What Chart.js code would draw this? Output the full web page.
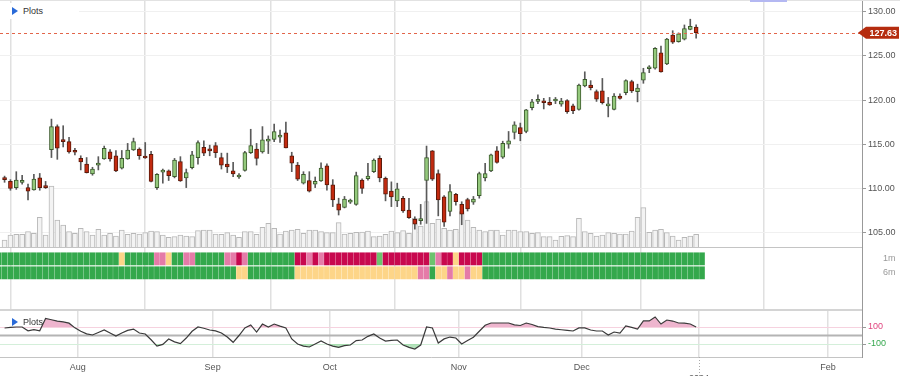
<!DOCTYPE html>
<html>
<head>
<meta charset="utf-8">
<script src="https://cdn.jsdelivr.net/npm/chart.js@4.4.0/dist/chart.umd.min.js"></script>
<style>
  body { margin: 0; background: #fff; overflow: hidden; font-family: "Liberation Sans", Arial, sans-serif; }
  #wrap { position: relative; width: 900px; height: 376px; }
  .box { position: absolute; left: 0; width: 900px; }
  #mainBox { top: 0; height: 248px; }
  #heatBox { top: 248px; height: 61px; }
  #oscBox { top: 309px; height: 67px; }
  .plots { position: absolute; left: 0; padding-left: 12px; font-size: 9px; line-height: 16px; height: 16px; color: #333; }
  .plots:before { content: ""; display: inline-block; border-left: 6px solid #2a6ad8; border-top: 4px solid transparent; border-bottom: 4px solid transparent; margin-right: 5px; vertical-align: -1px; }
  #topLine { position: absolute; left: 0; top: 0; width: 900px; height: 1px; background: #e2e2e2; }
  #scroller { position: absolute; left: 750px; top: 0; width: 37px; height: 2px; background: #b4b8f2; }
</style>
</head>
<body>
<div id="wrap">
  <div class="box" id="mainBox"><canvas id="main"></canvas></div>
  <div class="box" id="heatBox"><canvas id="heat"></canvas></div>
  <div class="box" id="oscBox"><canvas id="osc"></canvas></div>
  <div id="topLine"></div>
  <div id="scroller"></div>
  <div class="plots" style="top:3px;width:67px;background:#fff">Plots</div>
  <div class="plots" style="top:314px">Plots</div>
</div>
<script>
const FONT = '"Liberation Sans", Arial, sans-serif';
Chart.defaults.font.family = FONT;
Chart.defaults.font.size = 9;

// x range in trading-day index (0 = Jul 13 2023)
const xMin = -0.78, xMax = 146.3;
const monthTicks = [12.5, 35.5, 55.5, 77.5, 98.5, 118.5, 140.5];
const monthLabels = ["Aug", "Sep", "Oct", "Nov", "Dec", ["", "2024"], "Feb"];
const priceTicks = [105, 110, 115, 120, 125, 130];
const lastPrice = 127.63;

// daily candles
const open = [111.1,110.8,110.1,110.7,110.1,109.85,111.2,110.2,114.4,117.0,115.45,115.3,114.2,113.4,112.75,111.65,112.65,113.35,114.15,113.7,
  112.3,113.35,114.35,114.45,113.55,113.85,110.1,111.85,112.0,111.35,113.05,111.2,112.35,113.5,114.65,114.45,114.85,113.5,112.75,112.0,
  111.3,112.05,114.05,114.45,114.15,115.35,115.55,115.8,116.3,113.7,112.65,110.6,110.9,110.5,110.85,112.55,110.4,108.25,107.85,108.45,
  108.2,110.95,111.1,111.9,113.4,111.15,109.7,108.6,108.9,107.55,106.5,106.35,110.9,114.25,111.7,109.05,107.4,109.35,108.2,108.75,
  108.45,109.2,111.2,112.0,114.25,113.55,115.0,116.35,116.9,116.45,119.15,119.85,119.8,119.75,119.9,119.55,119.95,119.35,118.95,121.6,
  121.7,120.95,121.05,119.35,118.95,120.45,120.85,122.1,120.95,122.25,123.55,123.6,125.35,124.1,127.35,126.6,126.9,128.0,128.25];
const high = [111.4,111.0,111.9,111.5,110.5,111.6,111.7,110.8,117.85,117.2,117.1,115.8,114.55,113.7,113.5,112.4,113.6,114.8,114.4,114.3,
  114.3,115.1,115.7,114.6,115.2,114.2,111.7,112.2,112.1,113.4,113.6,112.2,114.2,115.4,115.4,114.9,115.2,114.0,114.0,112.95,
  111.7,114.2,116.7,115.1,117.0,115.95,117.3,116.6,117.5,114.1,112.95,111.9,111.9,111.3,112.9,112.8,111.0,108.9,109.1,108.8,
  111.85,111.1,112.85,113.35,113.7,111.3,110.75,110.6,109.1,108.9,106.8,108.2,114.8,114.3,112.1,109.2,110.45,109.45,108.5,108.9,
  109.1,111.85,112.85,113.9,114.75,115.35,116.45,117.55,117.4,118.95,120.1,120.6,120.2,120.3,120.3,120.2,120.05,119.55,121.8,123.2,
  122.2,121.15,122.45,120.3,120.75,120.7,122.3,122.25,121.8,123.6,123.9,125.95,126.1,127.0,127.85,127.6,128.5,129.15,128.5];
const low = [110.7,109.8,109.9,110.5,108.7,109.8,109.8,110.0,113.5,113.3,114.7,114.0,113.8,112.1,111.75,111.5,112.1,113.3,113.1,111.9,
  112.2,113.3,114.3,113.3,113.4,110.75,109.9,110.6,110.9,111.2,110.8,110.1,112.2,112.75,113.7,113.7,113.5,112.2,111.8,111.35,
  111.15,111.95,113.95,112.65,114.0,113.95,115.3,115.2,114.6,111.9,110.9,110.5,109.6,110.1,110.8,109.8,107.95,107.0,107.8,108.3,
  108.1,109.45,110.95,111.8,110.75,108.6,107.95,107.95,107.3,106.6,105.4,105.95,106.05,110.9,106.9,105.7,106.9,108.1,105.9,107.45,
  108.2,108.9,110.85,111.9,112.85,113.4,114.55,115.6,115.4,116.3,118.9,119.6,119.0,119.4,119.6,119.3,118.5,118.45,118.85,121.5,
  121.15,119.85,119.55,118.1,118.9,120.1,120.6,120.85,119.8,121.9,123.1,123.5,123.15,124.0,126.4,126.55,126.8,127.95,127.0];
const close = [111.0,110.0,110.95,110.8,109.7,111.05,110.1,110.1,117.0,114.55,115.3,114.15,114.1,113.0,111.8,112.2,112.85,114.55,113.35,112.0,
  113.4,114.35,115.3,113.7,113.45,110.8,111.6,111.95,111.45,113.2,110.85,111.8,113.8,115.2,114.0,114.25,114.05,112.65,112.45,111.65,
  111.5,114.05,114.85,113.4,115.5,115.4,116.45,116.05,114.6,112.85,111.05,111.6,109.7,110.8,112.3,110.4,108.7,107.55,108.8,108.65,
  111.45,110.0,111.4,113.2,111.2,109.35,109.05,109.95,107.45,106.7,105.95,106.6,113.5,111.05,108.7,106.2,109.65,108.5,107.1,107.7,
  108.8,111.7,111.7,113.8,112.95,115.1,115.4,117.2,116.2,118.9,119.8,119.95,119.7,119.45,119.95,119.9,118.7,118.8,121.7,122.35,
  121.4,120.1,119.7,119.4,120.45,120.2,122.2,121.05,121.35,123.1,123.65,125.85,123.2,126.9,126.55,127.5,128.1,128.35,127.63];
// volume, in 100k shares
const volume = [7,12,12.7,12.7,15.3,13.7,29.7,12,61,27,22,15.3,13.7,18.7,15.3,12,17.7,12,13.7,11,
  17,12.7,13.7,13,14.3,16,15.3,12,9.7,10.3,12,11,10.3,16.3,17,17,13,12.7,14.3,12,
  9.7,15.3,15.3,12.7,19.7,23.7,18.7,13,16,17,17.7,13.7,17,17,15.3,14.3,14.3,24.3,13,13.7,
  14.7,15,16,10.3,11,12.7,16,14.3,16.3,13.7,28.7,21,45.3,23.7,27.7,18.7,17,17.7,35.3,27,
  19.7,17,15.3,17,17,12,17,17,15.3,15.3,13.7,14.3,10.3,10.3,7,10.7,11.3,10.3,28.7,15.3,
  13.7,11,12,14.3,13.7,13,13,16,29.7,39.3,14.7,17,17.7,14.3,11,7,9.7,11,12.7];
// momentum oscillator (lower panel)
const osc = [88,95,100,100,55,70,55,200,185,170,160,145,90,50,20,6,35,65,30,-6,
  29,60,76,29,18,-50,-124,-105,-41,-75,-95,-30,50,100,85,65,55,30,-18,-80,
  0,90,124,41,135,100,135,110,88,-41,-100,-125,-135,-100,-65,-100,-125,-140,-120,-112,
  -60,-53,-10,18,-30,-65,-58,-53,-112,-140,-159,-112,100,88,-88,-40,-18,-29,-100,-60,
  -20,50,120,147,147,147,147,125,118,147,130,105,95,88,76,68,60,53,90,90,
  65,53,53,6,41,29,112,95,76,171,171,218,135,182,170,147,145,135,100];
// trend strip, one cell per day from index -1 to 119
// G strong up, L up, Y neutral, P down, R strong down
const heat1m = ("GGGGGGGGGGGGGGGGGGGGG" + "YGGGGGPPYGGPPGGGGGPPRP" + "GGGGGGGGRRPRPRRRRRRRRR" +
  "LRRRRRRRRLPRRYRRRR" + "GGGGGGGGGGGGGGGGGGGGGGGGGGGGGGGGGGGGGG").split("");
const heat6m = ("GGGGGGGGGGGGGGGGGGGGGGGGGGGGGGGGGGGGGGGGG" + "YYGGGGGGGG" + "YYYYYYYYYYYYYYYYYYYYY" +
  "PPGYYPYYPYY" + "GGGGGGGGGGGGGGGGGGGGGGGGGGGGGGGGGGGGGG").split("");
const heatRows = ["1m", "6m"];

const heatColors = { G: "#34a84c", L: "#6cc36e", Y: "#fdd588", P: "#e57ba8", R: "#c8084e" };
const days = open.map((_, i) => i);
const heatDays = heat1m.map((_, k) => k - 1);

// keep the label overflow from shrinking the plot area
function fitY(s) { s.width = 38; s.paddingTop = 0; s.paddingBottom = 0; }

function xAxis(showLabels) {
  return {
    type: "linear", min: xMin, max: xMax, offset: false,
    afterBuildTicks: (s) => { s.ticks = monthTicks.map((v) => ({ value: v })); },
    grid: { color: "#e0e0e0", lineWidth: 1.5, drawTicks: false },
    border: { display: true, color: "#c4c4c4" },
    ticks: {
      display: showLabels, autoSkip: false, maxRotation: 0, padding: 5, color: "#555",
      callback: (v, i) => monthLabels[i],
    },
    afterFit: (s) => { s.height = showLabels ? 19 : 0; s.paddingLeft = 0; s.paddingRight = 0; },
  };
}

// main price panel
const mainDecor = {
  id: "mainDecor",
  afterDatasetsDraw(chart) {
    const { ctx, chartArea: a, scales } = chart;
    const py = Math.round(scales.y.getPixelForValue(lastPrice)) + 0.5;
    ctx.save();
    ctx.strokeStyle = "#e2654a";
    ctx.lineWidth = 1;
    ctx.setLineDash([3, 3]);
    ctx.beginPath();
    ctx.moveTo(a.left, py);
    ctx.lineTo(a.right, py);
    ctx.stroke();
    ctx.restore();
  },
  afterDraw(chart) {
    const { ctx, chartArea: a, scales } = chart;
    const py = scales.y.getPixelForValue(lastPrice);
    ctx.save();
    ctx.fillStyle = "#b52c0f";
    ctx.beginPath();
    ctx.moveTo(a.right - 4, py);
    ctx.lineTo(a.right + 4, py - 6);
    ctx.lineTo(899, py - 6);
    ctx.lineTo(899, py + 6);
    ctx.lineTo(a.right + 4, py + 6);
    ctx.closePath();
    ctx.fill();
    ctx.fillStyle = "#fff";
    ctx.font = "bold 9px " + FONT;
    ctx.textAlign = "right";
    ctx.textBaseline = "middle";
    ctx.fillText(lastPrice.toFixed(2), 897, py + 0.5);
    ctx.restore();
  },
};

new Chart(document.getElementById("main"), {
  type: "bar",
  data: {
    datasets: [
      {
        label: "Volume", yAxisID: "yv", order: 3, grouped: false,
        data: days.map((i) => ({ x: i, y: volume[i] })),
        backgroundColor: "#f3f3f3", borderColor: "#b8b8b8", borderWidth: 1, barThickness: 5,
      },
      {
        label: "Range", yAxisID: "y", order: 2, grouped: false,
        data: days.map((i) => ({ x: i, y: [low[i], high[i]] })),
        backgroundColor: "#5a5a5a", barThickness: 1,
      },
      {
        label: "Body", yAxisID: "y", order: 1, grouped: false,
        data: days.map((i) => ({ x: i, y: [open[i], close[i]] })),
        backgroundColor: days.map((i) => (close[i] >= open[i] ? "#94c97c" : "#c22a0f")),
        borderColor: days.map((i) => (close[i] >= open[i] ? "#3b5a2c" : "#5a1a0b")),
        borderWidth: 1, borderSkipped: false, barThickness: 4, minBarLength: 2,
      },
    ],
  },
  options: {
    responsive: true,
    maintainAspectRatio: false,
    animation: false,
    layout: { padding: { top: 1, bottom: 1, left: 0, right: 0 } },
    plugins: { legend: { display: false }, tooltip: { enabled: false } },
    scales: {
      x: xAxis(false),
      y: {
        position: "right", min: 103.38, max: 131.21,
        afterBuildTicks: (s) => { s.ticks = priceTicks.map((v) => ({ value: v })); },
        grid: { color: "#f0f0f0", tickColor: "#999", tickLength: 4 },
        border: { color: "#999" },
        ticks: { color: "#555", padding: 2, callback: (v) => v.toFixed(2) },
        afterFit: fitY,
      },
      yv: { display: false, min: 0, max: 246 },
    },
  },
  plugins: [mainDecor],
});

// trend strip
const heatBands = [[0.78, 2.78], [3.07, 5.07]];
new Chart(document.getElementById("heat"), {
  type: "bar",
  data: {
    datasets: [heat1m, heat6m].map((row, r) => ({
      label: heatRows[r], grouped: false,
      data: heatDays.map((d) => ({ x: d, y: heatBands[r] })),
      backgroundColor: row.map((c) => heatColors[c]),
      borderWidth: 0, barThickness: 5,
    })),
  },
  options: {
    responsive: true,
    maintainAspectRatio: false,
    animation: false,
    layout: { padding: 0 },
    plugins: { legend: { display: false }, tooltip: { enabled: false } },
    scales: {
      x: xAxis(false),
      y: {
        position: "right", min: 0, max: 10, reverse: true,
        afterBuildTicks: (s) => { s.ticks = heatBands.map((b) => ({ value: (b[0] + b[1]) / 2 })); },
        grid: { display: false },
        border: { color: "#999" },
        ticks: { color: "#999", padding: 13, callback: (v, i) => heatRows[i] },
        afterFit: fitY,
      },
    },
  },
});

// oscillator panel
const oscDecor = {
  id: "oscDecor",
  beforeDatasetsDraw(chart) {
    const { ctx, chartArea: a, scales } = chart;
    const y0 = scales.y.getPixelForValue(0);
    ctx.save();
    ctx.strokeStyle = "#b4b4b4";
    ctx.lineWidth = 2;
    ctx.beginPath();
    ctx.moveTo(a.left, y0);
    ctx.lineTo(a.right, y0);
    ctx.stroke();
    ctx.strokeStyle = "#d4d4d4";
    ctx.beginPath();
    ctx.moveTo(a.left, a.top + 1);
    ctx.lineTo(a.right, a.top + 1);
    ctx.stroke();
    ctx.restore();
  },
  afterDraw(chart) {
    const { ctx, chartArea: a, scales } = chart;
    const xj = Math.round(scales.x.getPixelForValue(monthTicks[5])) + 0.5;
    ctx.save();
    ctx.strokeStyle = "#aaa";
    ctx.setLineDash([1, 2]);
    ctx.beginPath();
    ctx.moveTo(xj, a.bottom);
    ctx.lineTo(xj, chart.height);
    ctx.stroke();
    ctx.restore();
  },
};

new Chart(document.getElementById("osc"), {
  type: "line",
  data: {
    datasets: [
      {
        label: "above", order: 1,
        data: days.map((i) => ({ x: i, y: osc[i] })),
        borderColor: "#3a3a3a", borderWidth: 1.2, pointRadius: 0, tension: 0,
        fill: { value: 100, above: "rgba(231,150,185,0.7)", below: "rgba(0,0,0,0)" },
      },
      {
        label: "below", order: 2,
        data: days.map((i) => ({ x: i, y: osc[i] })),
        borderColor: "rgba(0,0,0,0)", borderWidth: 0, pointRadius: 0, tension: 0,
        fill: { value: -100, above: "rgba(0,0,0,0)", below: "rgba(150,215,160,0.7)" },
      },
    ],
  },
  options: {
    responsive: true,
    maintainAspectRatio: false,
    animation: false,
    layout: { padding: 0 },
    plugins: { legend: { display: false }, tooltip: { enabled: false } },
    scales: {
      x: xAxis(true),
      y: {
        position: "right", min: -252.9, max: 311.8,
        afterBuildTicks: (s) => { s.ticks = [{ value: 100 }, { value: -100 }]; },
        grid: {
          color: (c) => (c.tick && c.tick.value > 0 ? "#f6d2df" : "#d4efda"),
          tickColor: "#999", tickLength: 4,
        },
        border: { color: "#999" },
        ticks: {
          padding: 2,
          color: (c) => (c.tick && c.tick.value > 0 ? "#e0457f" : "#36a84f"),
          callback: (v) => String(v),
        },
        afterFit: fitY,
      },
    },
  },
  plugins: [oscDecor],
});
</script>
</body>
</html>
